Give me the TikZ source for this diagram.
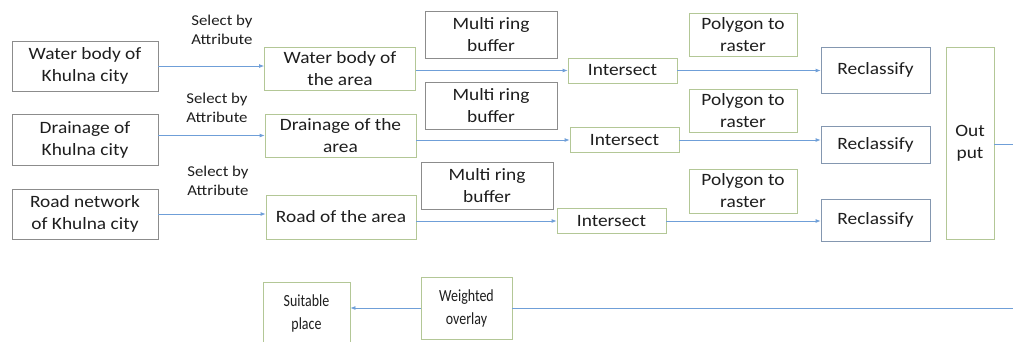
\documentclass[tikz,border=0pt]{standalone}
\usepackage{fontspec}
\setmainfont{Carlito}[FakeStretch=1.12]
\newfontfamily\narrowfont{Carlito}[FakeStretch=0.82]
\usepackage{xcolor}
\usetikzlibrary{arrows.meta,positioning}

\definecolor{boxgray}{HTML}{8C8C8C}
\definecolor{boxgreen}{HTML}{B3C796}
\definecolor{boxblue}{HTML}{8497B0}
\definecolor{flowblue}{HTML}{6F9FD8}
\definecolor{txtdark}{HTML}{1E1E1E}

\begin{document}
\begin{tikzpicture}[
  x=1pt, y=-1pt,
  font=\fontsize{17.3}{22}\selectfont, text=txtdark,
  base/.style={draw, line width=0.8pt, align=center, inner sep=0pt, fill=white},
  srcbox/.style={base, draw=boxgray, minimum width=146pt, minimum height=50pt},
  areabox/.style={base, draw=boxgreen, minimum width=151pt, minimum height=43pt},
  bufbox/.style={base, draw=boxgray, minimum width=132pt, minimum height=47pt},
  intbox/.style={base, draw=boxgreen, minimum width=109pt, minimum height=25pt},
  rastbox/.style={base, draw=boxgreen, minimum width=108pt, minimum height=43pt},
  recbox/.style={base, draw=boxblue, minimum width=109pt},
  lowbox/.style={base, draw=boxgreen, minimum height=62pt, font=\narrowfont\fontsize{17}{23}\selectfont},
  lbl/.style={align=center, font=\fontsize{15}{19}\selectfont},
  arrow/.style={-{Latex[length=5pt,width=4pt]}, draw=flowblue, line width=0.8pt},
  link/.style={draw=flowblue, line width=0.8pt}
]
\clip (0,0) rectangle (1013,341);

% sources
\node[srcbox] (wkc) at (85,66) {Water body of\\Khulna city};
\node[srcbox, minimum height=51pt] (dkc) at (85,139.5) {Drainage of\\Khulna city};
\node[srcbox] (rkc) at (85,214) {Road network\\of Khulna city};

% selected layers
\node[areabox] (wba) at (340,68.5) {Water body of\\the area};
\node[areabox] (dra) at (340.5,135.5) {Drainage of the\\area};
\node[areabox, minimum width=150pt, minimum height=44pt] (rda) at (341,217) {Road of the area};

\node[lbl] (sel1) at (222,30) {Select by\\Attribute};
\node[lbl] (sel2) at (217,108) {Select by\\Attribute};
\node[lbl] (sel3) at (218,181) {Select by\\Attribute};

% buffers
\node[bufbox] (mrb1) at (491,34.5) {Multi ring\\buffer};
\node[bufbox] (mrb2) at (491,106) {Multi ring\\buffer};
\node[bufbox] (mrb3) at (487,185.5) {Multi ring\\buffer};

\node[intbox] (int1) at (622.5,70.5) {Intersect};
\node[intbox] (int2) at (624.5,140) {Intersect};
\node[intbox] (int3) at (611.5,221) {Intersect};

\node[rastbox] (ptr1) at (743,34.5) {Polygon to\\raster};
\node[rastbox] (ptr2) at (743,110.5) {Polygon to\\raster};
\node[rastbox, minimum height=44pt] (ptr3) at (743,191) {Polygon to\\raster};

\node[recbox, minimum height=46pt] (rc1) at (875.5,70) {Reclassify};
\node[recbox, minimum height=37pt] (rc2) at (875.5,144.5) {Reclassify};
\node[recbox, minimum height=42pt] (rc3) at (875.5,220) {Reclassify};

\node[base, draw=boxgreen, minimum width=48pt, minimum height=192pt] (out) at (970,143) {Out\\put};

% overlay
\node[lowbox, minimum width=91pt] (wo) at (466.5,308) {Weighted\\overlay};
\node[lowbox, minimum width=87pt] (sp) at (306.5,313) {Suitable\\place};

\draw[arrow] (wkc.east) -- (wkc.east -| wba.west);
\draw[arrow] (dra.west -| dkc.east) -- (dra.west);
\draw[arrow] (rkc.east) -- (rkc.east -| rda.west);
\draw[arrow] (wba.east |- int1.west) -- (int1.west);
\draw[arrow] (dra.east |- int2.west) -- (int2.west);
\draw[arrow] (rda.east |- int3.west) -- (int3.west);
\draw[arrow] (int1.east) -- (int1.east -| rc1.west);
\draw[arrow] (int2.east) -- (int2.east -| rc2.west);
\draw[arrow] (int3.east) -- (int3.east -| rc3.west);
\draw[link] (out.east |- 0,144) -- ++(40,0) |- (wo.east);
\draw[arrow] (wo.west) -- (wo.west -| sp.east);
\end{tikzpicture}
\end{document}
